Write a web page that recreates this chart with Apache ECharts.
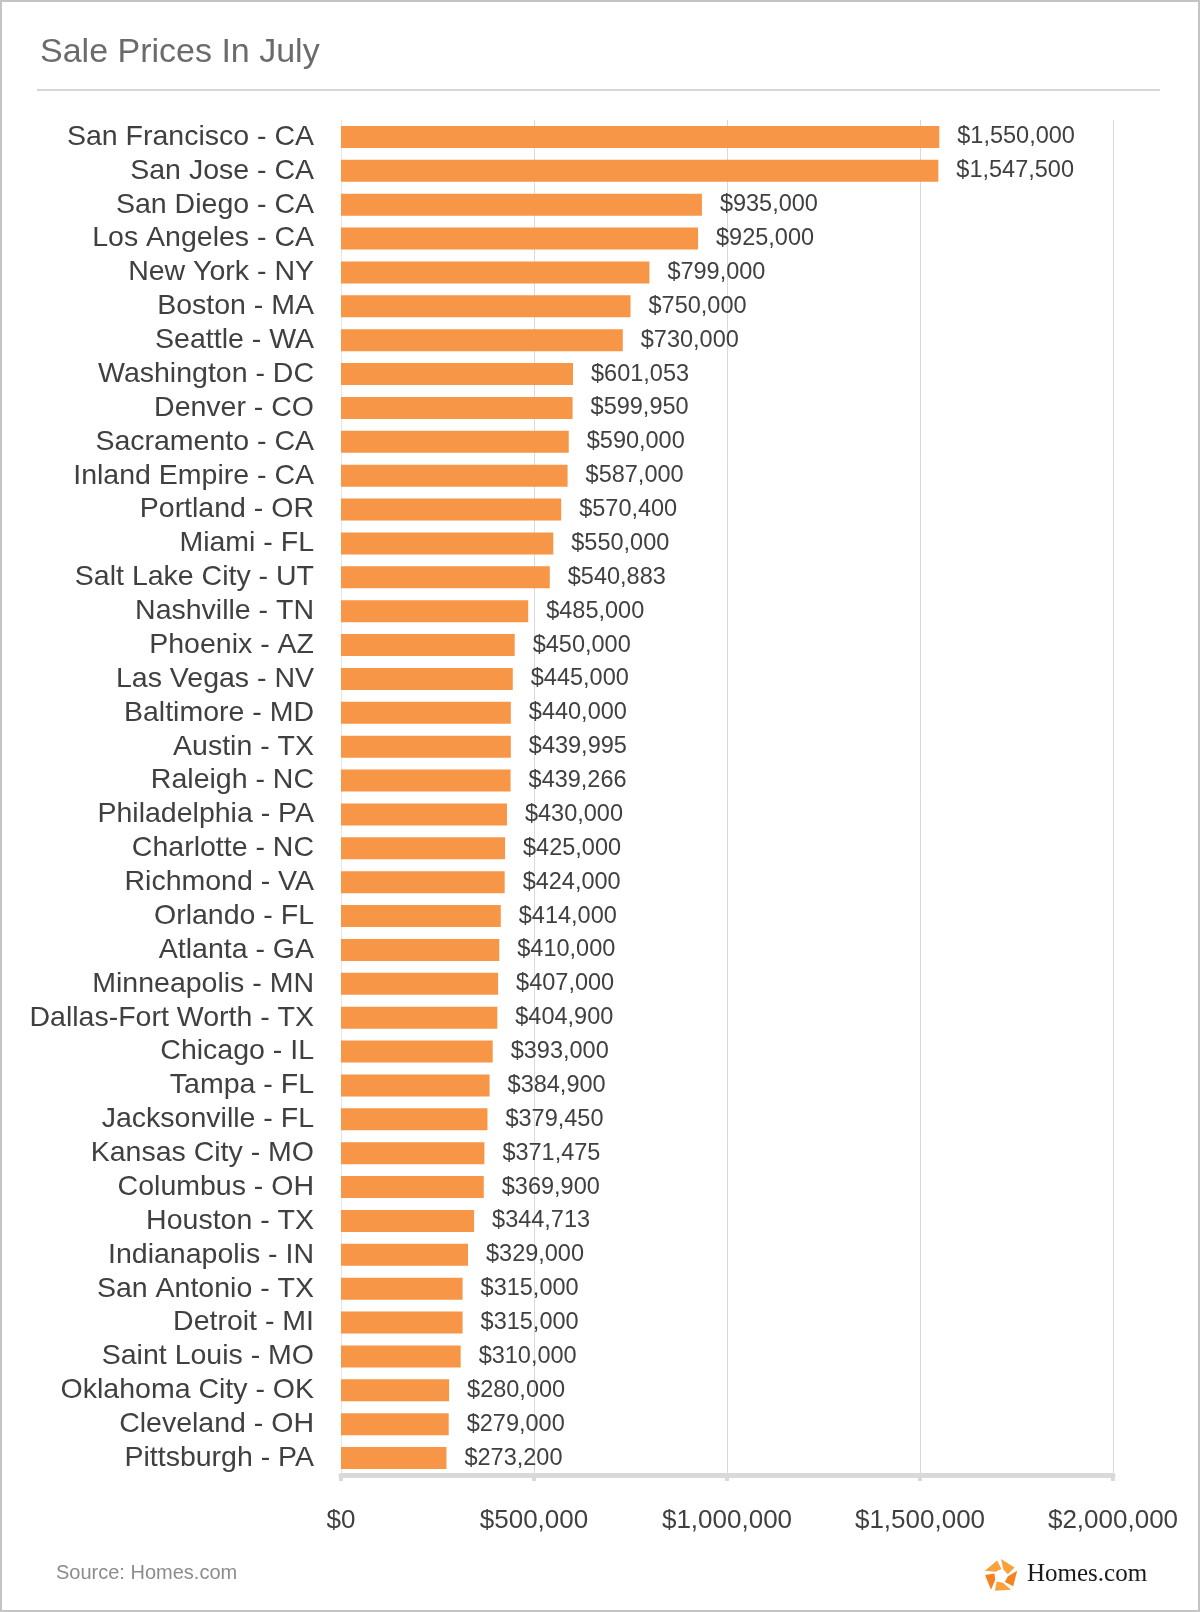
<!DOCTYPE html>
<html>
<head>
<meta charset="utf-8">
<title>Sale Prices In July</title>
<script src="https://cdn.jsdelivr.net/npm/echarts@6/dist/echarts.min.js"></script>
<style>
  html, body { margin: 0; padding: 0; background: #fff; }
  #chart { width: 1200px; height: 1612px; }
</style>
</head>
<body>
<div id="chart"></div>
<script>
// metros, top to bottom
var cities = [
  'San Francisco - CA', 'San Jose - CA', 'San Diego - CA', 'Los Angeles - CA',
  'New York - NY', 'Boston - MA', 'Seattle - WA', 'Washington - DC',
  'Denver - CO', 'Sacramento - CA', 'Inland Empire - CA', 'Portland - OR',
  'Miami - FL', 'Salt Lake City - UT', 'Nashville - TN', 'Phoenix - AZ',
  'Las Vegas - NV', 'Baltimore - MD', 'Austin - TX', 'Raleigh - NC',
  'Philadelphia - PA', 'Charlotte - NC', 'Richmond - VA', 'Orlando - FL',
  'Atlanta - GA', 'Minneapolis - MN', 'Dallas-Fort Worth - TX', 'Chicago - IL',
  'Tampa - FL', 'Jacksonville - FL', 'Kansas City - MO', 'Columbus - OH',
  'Houston - TX', 'Indianapolis - IN', 'San Antonio - TX', 'Detroit - MI',
  'Saint Louis - MO', 'Oklahoma City - OK', 'Cleveland - OH', 'Pittsburgh - PA'
];

// median sale price, July
var prices = [
  1550000, 1547500, 935000, 925000,
  799000, 750000, 730000, 601053,
  599950, 590000, 587000, 570400,
  550000, 540883, 485000, 450000,
  445000, 440000, 439995, 439266,
  430000, 425000, 424000, 414000,
  410000, 407000, 404900, 393000,
  384900, 379450, 371475, 369900,
  344713, 329000, 315000, 315000,
  310000, 280000, 279000, 273200
];

var axisTicks = [0, 500000, 1000000, 1500000, 2000000];

function money(v) {
  return '$' + Number(v).toLocaleString('en-US');
}

var chart = echarts.init(document.getElementById('chart'));

// homes.com pinwheel mark
var logoCx = 1001, logoCy = 1576;
var logoParts = [];
for (var i = 0; i < 5; i++) {
  var a = (i * 72 - 90) * Math.PI / 180;
  var b = a + 58 * Math.PI / 180;
  var c = a + 20 * Math.PI / 180;
  var pts = [
    [logoCx + 17 * Math.cos(a), logoCy + 17 * Math.sin(a)],
    [logoCx + 16 * Math.cos(b), logoCy + 16 * Math.sin(b)],
    [logoCx + 7 * Math.cos(b + 0.3), logoCy + 7 * Math.sin(b + 0.3)],
    [logoCx + 7 * Math.cos(c), logoCy + 7 * Math.sin(c)]
  ];
  logoParts.push({
    type: 'polygon',
    shape: { points: pts },
    style: { fill: i % 2 ? '#F58220' : '#F9A13A' }
  });
}

var option = {
  backgroundColor: '#fff',
  animation: false,
  grid: { left: 341, right: 87, top: 120, bottom: 137 },
  xAxis: {
    type: 'value',
    min: axisTicks[0],
    max: axisTicks[axisTicks.length - 1],
    interval: 500000,
    axisLine: { show: true, lineStyle: { color: '#d9d9d9', width: 5 } },
    axisTick: { show: true, length: 6, lineStyle: { color: '#d9d9d9', width: 4 } },
    splitLine: { show: true, lineStyle: { color: '#d9d9d9', width: 1 } },
    axisLabel: {
      formatter: money,
      color: '#404040',
      fontSize: 26,
      fontFamily: 'Liberation Sans, Arial, sans-serif',
      margin: 33
    }
  },
  yAxis: {
    type: 'category',
    data: cities,
    inverse: true,
    axisLine: { show: true, lineStyle: { color: '#e6e6e6', width: 1 } },
    axisTick: { show: false },
    axisLabel: {
      interval: 0,
      color: '#404040',
      fontSize: 28.5,
      fontFamily: 'Liberation Sans, Arial, sans-serif',
      margin: 27
    }
  },
  series: [{
    type: 'bar',
    data: prices,
    barWidth: 22,
    itemStyle: { color: '#F79646' },
    label: {
      show: true,
      position: 'right',
      distance: 18,
      formatter: function (p) { return money(p.value); },
      color: '#404040',
      fontSize: 23.5,
      fontFamily: 'Liberation Sans, Arial, sans-serif'
    }
  }],
  graphic: [
    {
      type: 'rect',
      shape: { x: 1, y: 1, width: 1198, height: 1610 },
      style: { fill: 'none', stroke: '#c4c4c4', lineWidth: 2 },
      silent: true
    },
    {
      type: 'text',
      left: 40,
      top: 36,
      style: {
        text: 'Sale Prices In July',
        fill: '#6b6b6b',
        font: '34px "Liberation Sans", Arial, sans-serif'
      }
    },
    {
      type: 'line',
      shape: { x1: 37, y1: 90, x2: 1160, y2: 90 },
      style: { stroke: '#c8c8c8', lineWidth: 1.5 }
    },
    {
      type: 'text',
      left: 56,
      top: 1563,
      style: {
        text: 'Source: Homes.com',
        fill: '#8c8c8c',
        font: '20px "Liberation Sans", Arial, sans-serif'
      }
    },
    {
      type: 'group',
      children: logoParts
    },
    {
      type: 'text',
      left: 1027,
      top: 1562,
      style: {
        text: 'Homes.com',
        fill: '#1a1a1a',
        font: '25px "Liberation Serif", "Times New Roman", serif'
      }
    }
  ]
};

chart.setOption(option);
</script>
</body>
</html>
